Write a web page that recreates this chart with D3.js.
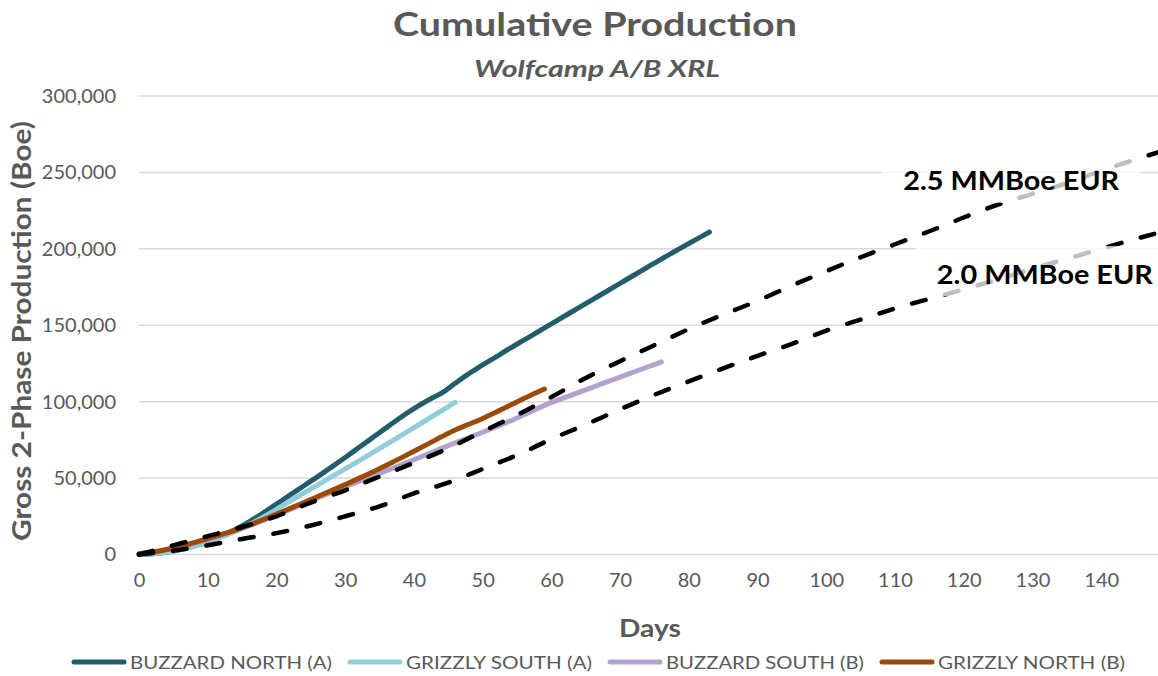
<!DOCTYPE html>
<html><head><meta charset="utf-8">
<script src="https://cdn.jsdelivr.net/npm/d3@7"></script>
<style>
body{margin:0;background:#fff}
svg{display:block}
text{font-family:Lato,"Open Sans",sans-serif}
</style>
</head><body>
<svg id="chart" width="1158" height="676"></svg>
<script>
// ---------------- data ----------------
const titleText = "Cumulative Production";
const subtitleText = "Wolfcamp A/B XRL";
const xAxisTitle = "Days";
const yAxisTitle = "Gross 2-Phase Production (Boe)";
const xTickValues = [0,10,20,30,40,50,60,70,80,90,100,110,120,130,140];
const yTickValues = [0,50000,100000,150000,200000,250000,300000];

const seriesNames = ["BUZZARD NORTH (A)","GRIZZLY SOUTH (A)","BUZZARD SOUTH (B)","GRIZZLY NORTH (B)"];
const seriesColors = ["#215D6A","#92CDDC","#B3A2CB","#9C4A08"];

const buzzardNorthDays = [0,2,4,6,8,10,12,14,16,18,20,22,24,26,28,30,32,34,36,38,40,42,43,44,46,48,50,52,54,56,58,60,62,64,66,68,70,72,74,76,78,80,82,83];
const buzzardNorthBoe  = [0,500,1500,3200,5500,8300,12000,16300,21300,27000,33000,39000,45000,51000,57200,63500,70000,76500,83000,89500,95500,100800,103200,105500,112000,118300,124000,129500,135000,140300,145600,150900,156200,161500,166800,172100,177400,182700,188000,193300,198400,203500,208500,211000];

const grizzlySouthDays = [0,2,4,6,8,10,12,14,16,18,20,22,24,26,28,30,32,34,36,38,40,42,44,46];
const grizzlySouthBoe  = [0,500,1500,3200,5500,8300,11500,15000,19500,24300,29500,35000,40300,45500,50800,56000,61300,66600,72000,77500,83000,88500,94000,99500];

const buzzardSouthDays = [0,2,4,6,8,10,12,14,16,18,20,22,24,26,28,30,32,34,36,38,40,42,44,46,48,50,52,54,56,58,60,62,64,66,68,70,72,74,76];
const buzzardSouthBoe  = [400,1400,3000,5000,7300,9800,12600,15500,18700,22200,25800,29500,33200,37000,40700,44300,47800,51200,54800,58400,62000,65700,69400,73000,76500,80000,83600,87300,91400,95500,99500,102800,106100,109400,112800,116100,119400,122700,126000];

const grizzlyNorthDays = [0,2,4,6,8,10,12,14,16,18,20,22,24,26,28,30,32,34,36,38,40,42,44,46,48,50,52,54,56,58,59];
const grizzlyNorthBoe  = [500,1600,3300,5400,7800,10400,13100,16000,19200,22700,26500,30200,34000,37900,41800,45800,49800,54000,58400,62900,67500,72200,77000,81500,85200,89000,93200,97600,102000,106300,108300];

const typeCurveDays = [0,5,10,15,20,25,30,35,40,45,50,55,60,65,70,75,80,85,90,95,100,105,110,115,120,125,130,135,140,145,150];
const eur25Boe = [0,6000,12000,18000,25000,34000,42000,51000,60000,69500,80500,91300,103000,115500,126500,137000,147500,157000,166000,176000,185400,194500,203000,211500,220500,229000,236000,243000,251000,258500,265500];
const eur20Boe = [0,2500,6000,10200,14000,19000,25000,31500,40000,47000,56000,65000,75500,85000,95000,104500,113300,121800,130000,137800,146500,153700,161000,167300,173500,180000,187000,193500,200000,206500,212500];

const eurLabels = ["2.5 MMBoe EUR","2.0 MMBoe EUR"];
const eurLabelAnchorDays = [126.9, 131.8];
const eurLabelAnchorBoe  = [244500, 183500];

// ---------------- layout ----------------
const svg = d3.select("#chart");
const x = d3.scaleLinear().domain([0,150]).range([139, 139 + 150*6.873]);
const y = d3.scaleLinear().domain([0,300000]).range([554.5, 96]);
const grey = "#595959";

// gridlines
svg.append("g").selectAll("line").data(yTickValues).join("line")
  .attr("x1", x(0)).attr("x2", x(150))
  .attr("y1", d => y(d)).attr("y2", d => y(d))
  .attr("stroke", "#d9d9d9").attr("stroke-width", 1.5);

// y axis labels
const yAxis = d3.axisLeft(y).tickValues(yTickValues).tickFormat(d3.format(",")).tickSize(0).tickPadding(0);
const gy = svg.append("g").attr("transform", "translate(116,0)").call(yAxis);
gy.select(".domain").remove();
gy.selectAll("text").attr("font-family","Lato").attr("font-size",20).attr("fill",grey);

// x axis labels
const xAxis = d3.axisBottom(x).tickValues(xTickValues).tickFormat(d3.format("d")).tickSize(0).tickPadding(0);
const gx = svg.append("g").attr("transform", "translate(0,573)").call(xAxis);
gx.select(".domain").remove();
gx.selectAll("text").attr("font-family","Lato").attr("font-size",20).attr("fill",grey).attr("dy","0.71em");

// series
const solidSeries = [
  {days: buzzardNorthDays, boe: buzzardNorthBoe, color: seriesColors[0]},
  {days: grizzlySouthDays, boe: grizzlySouthBoe, color: seriesColors[1]},
  {days: buzzardSouthDays, boe: buzzardSouthBoe, color: seriesColors[2]},
  {days: grizzlyNorthDays, boe: grizzlyNorthBoe, color: seriesColors[3]},
];
const line = d3.line().x(d => x(d[0])).y(d => y(d[1])).curve(d3.curveMonotoneX);

const plot = svg.append("g");
solidSeries.forEach(s => {
  plot.append("path")
    .datum(d3.zip(s.days, s.boe))
    .attr("d", line)
    .attr("fill","none").attr("stroke", s.color)
    .attr("stroke-width", 5).attr("stroke-linecap","round").attr("stroke-linejoin","round");
});

[eur25Boe, eur20Boe].forEach(vals => {
  plot.append("path")
    .datum(d3.zip(typeCurveDays, vals))
    .attr("d", line)
    .attr("fill","none").attr("stroke","#000")
    .attr("stroke-width", 4.5).attr("stroke-linecap","round")
    .attr("stroke-dasharray","14,20");
});

// EUR labels with semi-transparent boxes
eurLabels.forEach((t, i) => {
  const cx = x(eurLabelAnchorDays[i]), cy = y(eurLabelAnchorBoe[i]);
  svg.append("rect")
    .attr("x", cx - 129.5).attr("y", cy - 28).attr("width", 259).attr("height", 50)
    .attr("fill","#fff").attr("fill-opacity",0.75);
  svg.append("text")
    .attr("x", cx).attr("y", cy + 9.5)
    .attr("text-anchor","middle")
    .attr("font-size",26).attr("font-weight","bold").attr("fill","#000")
    .attr("textLength",216).attr("lengthAdjust","spacingAndGlyphs")
    .text(t);
});

// titles
svg.append("text").attr("x",595).attr("y",36).attr("text-anchor","middle")
  .attr("font-size",32).attr("font-weight","bold").attr("fill",grey)
  .attr("textLength",404).attr("lengthAdjust","spacingAndGlyphs").text(titleText);
svg.append("text").attr("x",597).attr("y",77).attr("text-anchor","middle")
  .attr("font-size",23).attr("font-weight","bold").attr("font-style","italic").attr("fill",grey)
  .attr("textLength",246).attr("lengthAdjust","spacingAndGlyphs").text(subtitleText);

svg.append("text").attr("x",650).attr("y",637).attr("text-anchor","middle")
  .attr("font-size",25).attr("font-weight","bold").attr("fill",grey)
  .attr("textLength",62).attr("lengthAdjust","spacingAndGlyphs").text(xAxisTitle);

svg.append("text").attr("transform","translate(31,331) rotate(-90)").attr("text-anchor","middle")
  .attr("font-size",26).attr("font-weight","bold").attr("fill",grey)
  .attr("textLength",420).attr("lengthAdjust","spacingAndGlyphs").text(yAxisTitle);

// legend
const legendTextWidths = [202,186,198,187];
let lx = 72;
const ly = 662;
seriesNames.forEach((n, i) => {
  svg.append("line").attr("x1", lx + 2).attr("x2", lx + 52).attr("y1", ly).attr("y2", ly)
    .attr("stroke", seriesColors[i]).attr("stroke-width",5).attr("stroke-linecap","round");
  svg.append("text").attr("x", lx + 58).attr("y", ly + 6.5)
    .attr("font-size",18).attr("fill",grey)
    .attr("textLength",legendTextWidths[i]).attr("lengthAdjust","spacingAndGlyphs").text(n);
  lx += 58 + legendTextWidths[i] + 16;
});
</script>
</body></html>
